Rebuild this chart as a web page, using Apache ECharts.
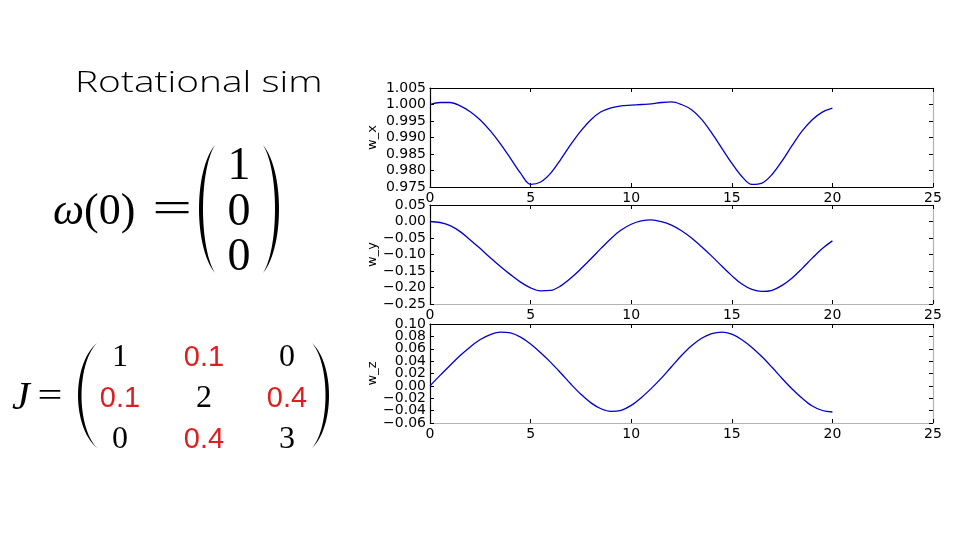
<!DOCTYPE html>
<html>
<head>
<meta charset="utf-8">
<title>Rotational sim</title>
<script src="https://cdn.jsdelivr.net/npm/echarts@6/dist/echarts.min.js"></script>
<style>
  html, body { margin: 0; padding: 0; background: #fff; }
  #chart { width: 960px; height: 540px; }
</style>
</head>
<body>
<div id="chart"></div>
<script>
// time samples (every 0.5 s) and the three angular velocity components
const timeList = [0, 0.5, 1, 1.5, 2, 2.5, 3, 3.5, 4, 4.5, 5, 5.5, 6, 6.5, 7, 7.5, 8, 8.5, 9, 9.5, 10,
  10.5, 11, 11.5, 12, 12.5, 13, 13.5, 14, 14.5, 15, 15.5, 16, 16.5, 17, 17.5, 18, 18.5, 19, 19.5, 20]
const wxList = [1.0000, 1.0006, 1.0006, 0.9996, 0.9978, 0.9953, 0.9920, 0.9881, 0.9837, 0.9792, 0.9758,
  0.9765, 0.9792, 0.9834, 0.9879, 0.9920, 0.9954, 0.9978, 0.9990, 0.9996, 0.9998,
  1.0000, 1.0002, 1.0006, 1.0008, 1.0000, 0.9984, 0.9955, 0.9914, 0.9868, 0.9822,
  0.9782, 0.9758, 0.9762, 0.9788, 0.9829, 0.9876, 0.9920, 0.9954, 0.9977, 0.9989]
const wyList = [0.0000, -0.0030, -0.0124, -0.0306, -0.0557, -0.0820, -0.1100, -0.1363, -0.1610, -0.1836, -0.2010,
  -0.2100, -0.2088, -0.1950, -0.1715, -0.1434, -0.1131, -0.0815, -0.0515, -0.0260, -0.0084,
  0.0017, 0.0047, -0.0005, -0.0110, -0.0280, -0.0500, -0.0765, -0.1050, -0.1350, -0.1640,
  -0.1895, -0.2060, -0.2120, -0.2085, -0.1935, -0.1710, -0.1420, -0.1110, -0.0820, -0.0588]
const wzList = [0.0000, 0.0170, 0.0332, 0.0490, 0.0630, 0.0750, 0.0830, 0.0870, 0.0855, 0.0788, 0.0677,
  0.0535, 0.0380, 0.0208, 0.0030, -0.0135, -0.0275, -0.0370, -0.0412, -0.0395, -0.0315,
  -0.0190, -0.0040, 0.0125, 0.0310, 0.0490, 0.0648, 0.0770, 0.0845, 0.0870, 0.0835,
  0.0745, 0.0620, 0.0470, 0.0300, 0.0120, -0.0050, -0.0200, -0.0325, -0.0398, -0.0422]

// y tick labels, bottom to top
const wxTicks = ['0.975', '0.980', '0.985', '0.990', '0.995', '1.000', '1.005']
const wyTicks = ['\u22120.25', '\u22120.20', '\u22120.15', '\u22120.10', '\u22120.05', '0.00', '0.05']
const wzTicks = ['\u22120.06', '\u22120.04', '\u22120.02', '0.00', '0.02', '0.04', '0.06', '0.08', '0.10']

// axis names and y ranges [min, max, step]
const panelNames = ['w_x', 'w_y', 'w_z']
const panelRanges = [[0.975, 1.005, 0.005], [-0.25, 0.05, 0.05], [-0.06, 0.10, 0.02]]
const panelTicks = [wxTicks, wyTicks, wzTicks]
const panelData = [wxList, wyList, wzList]
const xRange = [0, 25, 5]

// initial state and inertia matrix shown on the slide (off-diagonals in red)
const omega0 = ['1', '0', '0']
const jMatrix = [['1', '0.1', '0'], ['0.1', '2', '0.4'], ['0', '0.4', '3']]
const jRed = [[false, true, false], [true, false, true], [false, true, false]]

const panelTops = [88, 205, 324]
const lineColor = '#0000c8'
const grayLine = '#b4b4b4'

const grids = []
const xAxes = []
const yAxes = []
const series = []

panelNames.forEach((name, i) => {
  const r = panelRanges[i]
  grids.push({ left: 430, right: 27, top: panelTops[i], height: 99 })
  const tick = { show: true, inside: true, length: 4, lineStyle: { color: '#000', width: 1 } }
  xAxes.push({
    gridIndex: i, type: 'value', position: 'bottom',
    min: xRange[0], max: xRange[1], interval: xRange[2],
    axisLine: { onZero: false, lineStyle: { color: i === 0 ? '#000' : grayLine, width: 1.2 } },
    axisTick: tick,
    axisLabel: { fontFamily: 'DejaVu Sans', fontSize: 14, color: '#000', margin: 4 },
    splitLine: { show: false }
  })
  xAxes.push({
    gridIndex: i, type: 'value', position: 'top',
    min: xRange[0], max: xRange[1], interval: xRange[2],
    axisLine: { onZero: false, lineStyle: { color: '#000', width: 1.2 } },
    axisTick: tick,
    axisLabel: { show: false },
    splitLine: { show: false }
  })
  // value axis: line, inner ticks and name; the series is drawn on it
  yAxes.push({
    gridIndex: i, type: 'value', position: 'left',
    min: r[0], max: r[1], interval: r[2],
    name: name, nameLocation: 'middle', nameGap: 51, nameMoveOverlap: false,
    nameTextStyle: { fontFamily: 'DejaVu Sans', fontSize: 13, color: '#000' },
    axisLine: { show: true, onZero: false, lineStyle: { color: '#000', width: 1.2 } },
    axisTick: tick,
    axisLabel: { show: false },
    splitLine: { show: false }
  })
  yAxes.push({
    gridIndex: i, type: 'value', position: 'right',
    min: r[0], max: r[1], interval: r[2],
    axisLine: { show: true, onZero: false, lineStyle: { color: grayLine, width: 1.2 } },
    axisTick: tick,
    axisLabel: { show: false },
    splitLine: { show: false }
  })
  // label axis: every tick label shown, even where they crowd
  yAxes.push({
    gridIndex: i, type: 'category', position: 'left',
    data: panelTicks[i], boundaryGap: false,
    axisLine: { show: false },
    axisTick: { show: false },
    axisLabel: { interval: 0, fontFamily: 'DejaVu Sans', fontSize: 14, color: '#000', margin: 4 },
    splitLine: { show: false }
  })
  series.push({
    type: 'line',
    xAxisIndex: i * 2,
    yAxisIndex: i * 3,
    data: timeList.map((t, k) => [t, panelData[i][k]]),
    showSymbol: false,
    smooth: 0.35,
    lineStyle: { color: lineColor, width: 1.3 }
  })
})

// big bracket: a tapered shape between two cubic curves, as a polygon
function paren(xt, y0, y1, w, th) {
  const h = y1 - y0
  const bez = (a, b, c, d, t) => (1 - t) ** 3 * a + 3 * (1 - t) ** 2 * t * b + 3 * (1 - t) * t * t * c + t ** 3 * d
  const c1 = xt - w * 4 / 3
  const c2 = xt - (w - th) * 4 / 3
  const pts = []
  for (let k = 0; k <= 30; k++) {
    const t = k / 30
    pts.push([bez(xt, c1, c1, xt, t), bez(y0, y0 + h * 0.2, y0 + h * 0.8, y1, t)])
  }
  for (let k = 30; k >= 0; k--) {
    const t = k / 30
    pts.push([bez(xt, c2, c2, xt, t), bez(y0, y0 + h * 0.2, y0 + h * 0.8, y1, t)])
  }
  return { type: 'polygon', shape: { points: pts }, style: { fill: '#000' } }
}

function txt(x, y, text, size, family, color, extra, scaleX) {
  return {
    type: 'text', x: x, y: y, scaleX: scaleX || 1,
    style: Object.assign({
      text: text, fontSize: size, fontFamily: family, fill: color || '#000',
      align: 'center', verticalAlign: 'middle'
    }, extra || {})
  }
}

const serif = 'Liberation Serif'
const graphics = [
  txt(75, 84, 'Rotational sim', 29, 'Open Sans', '#000', { align: 'left', fontWeight: 300 }, 1.34),
  txt(53, 212, '{i|ω}(0)', 44, serif, '#000', {
    align: 'left', rich: { i: { fontStyle: 'italic', fontSize: 44, fontFamily: serif } }
  }),
  txt(172, 210, '=', 44, serif, '#000', {}, 1.6),
  paren(215, 145, 273, 16, 4),
  paren(263, 145, 273, -16, -4),
  txt(12, 398, 'J', 40, serif, '#000', { align: 'left', fontStyle: 'italic' }),
  txt(50, 397, '=', 34, serif, '#000', {}, 1.3),
  paren(97, 343, 448, 19, 3.5),
  paren(312, 343, 448, -17, -3.5)
]
omega0.forEach((d, k) => {
  graphics.push(txt(239, [167, 213, 258][k], d, 46, serif))
})
const rowY = [358, 399, 440]
const colX = [120, 204, 287]
jMatrix.forEach((row, a) => {
  row.forEach((v, b) => {
    if (jRed[a][b]) {
      graphics.push(txt(colX[b], rowY[a], v, 29, 'Liberation Sans', '#dc1e1e'))
    } else {
      graphics.push(txt(colX[b], rowY[a], v, 32, serif))
    }
  })
})

const chart = echarts.init(document.getElementById('chart'))
chart.setOption({
  animation: false,
  backgroundColor: '#fff',
  grid: grids,
  xAxis: xAxes,
  yAxis: yAxes,
  series: series,
  graphic: graphics
})
</script>
</body>
</html>
